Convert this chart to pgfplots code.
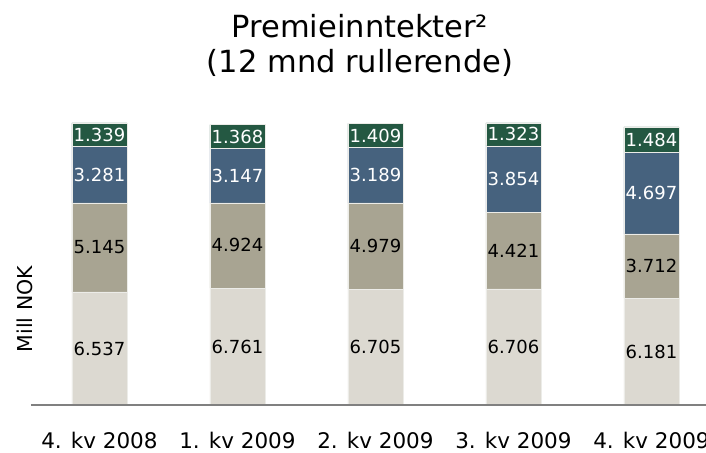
\documentclass[border=0pt]{standalone}
\usepackage{pgfplots}
\pgfplotsset{compat=1.18}
\usepackage{fontspec}
\setmainfont{DejaVu Sans}
\definecolor{cLight}{RGB}{220,217,209}
\definecolor{cKhaki}{RGB}{168,164,146}
\definecolor{cBlue}{RGB}{70,98,126}
\definecolor{cGreen}{RGB}{36,88,66}
\definecolor{cAxis}{RGB}{128,128,128}
\definecolor{cSep}{RGB}{236,236,232}
\pgfplotsset{
  mid labels/.style={
    nodes near coords={\pgfmathprintnumber[fixed,fixed zerofill,precision=3,assume math mode=true]{\pgfplotspointmeta}},
    nodes near coords align={center},
    every node near coord/.append style={
      font=\fontsize{18}{20}\selectfont, text=#1, inner sep=0pt, anchor=center},
  },
}
\begin{document}
\begin{tikzpicture}
\useasboundingbox (0,0) rectangle (706pt,452pt);
\node[anchor=base, font=\fontsize{30.5}{36}\selectfont] at (360pt,414pt) {Premieinntekter²};
\node[anchor=base, font=\fontsize{30.5}{36}\selectfont] at (360pt,379pt) {(12 mnd rullerende)};
\node[rotate=90, anchor=base, font=\fontsize{20.5}{24}\selectfont] at (32pt,143pt) {Mill NOK};
\begin{axis}[
  at={(31pt,47pt)}, anchor=south west,
  scale only axis,
  x=138pt, y=17.3pt,
  xmin=-0.496, xmax=4.6, ymin=0, ymax=17,
  ybar stacked, bar width=55pt,
  axis x line*=bottom, axis y line=none,
  x axis line style={draw=cAxis, line width=2pt},
  ytick=\empty,
  xtick={0,1,2,3,4},
  xticklabels={4. kv 2008, 1. kv 2009, 2. kv 2009, 3. kv 2009, 4. kv 2009},
  major tick length=0pt,
  xticklabel style={anchor=base, yshift=-44pt, font=\fontsize{21.5}{24}\selectfont, inner sep=0pt},
  clip=false,
  axis on top,
]
\addplot[fill=cLight, draw=cSep, line width=0.5pt, mid labels=black] coordinates {(0,6.537) (1,6.761) (2,6.705) (3,6.706) (4,6.181)};
\addplot[fill=cKhaki, draw=cSep, line width=0.5pt, mid labels=black] coordinates {(0,5.145) (1,4.924) (2,4.979) (3,4.421) (4,3.712)};
\addplot[fill=cBlue, draw=cSep, line width=0.5pt, mid labels=white] coordinates {(0,3.281) (1,3.147) (2,3.189) (3,3.854) (4,4.697)};
\addplot[fill=cGreen, draw=cSep, line width=0.5pt, mid labels=white] coordinates {(0,1.339) (1,1.368) (2,1.409) (3,1.323) (4,1.484)};
\addplot[draw=none, fill=none, point meta=explicit symbolic,
  nodes near coords={\pgfplotspointmeta},
  every node near coord/.append style={font=\fontsize{18}{20}\selectfont, text=black, inner sep=0pt, yshift=7pt}]
  coordinates {(0,0) [16.302] (1,0) [16.201] (2,0) [16.282] (3,0) [16.304] (4,0) [16.074]};
\end{axis}
\end{tikzpicture}
\end{document}
